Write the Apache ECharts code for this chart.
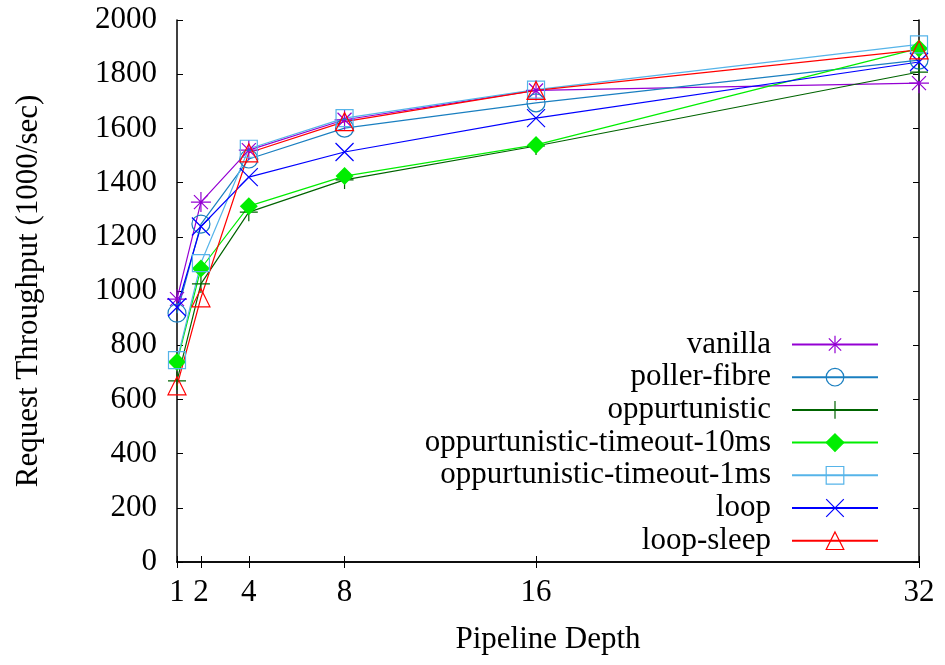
<!DOCTYPE html>
<html>
<head>
<meta charset="utf-8">
<script src="https://cdn.jsdelivr.net/npm/echarts@6/dist/echarts.min.js"></script>
<style>
  html, body { margin: 0; padding: 0; background: #fff; }
  #chart { width: 945px; height: 665px; }
</style>
</head>
<body>
<div id="chart"></div>
<script>
// pipeline depths on the x axis
var depths = [1, 2, 4, 8, 16, 32];
var xTicks = [1, 2, 4, 8, 16, 32];

// request throughput (1000/sec)
var vanilla      = [970, 1328, 1520, 1632, 1740, 1767];
var pollerFibre  = [918, 1247, 1487, 1601, 1694, 1852];
var opp          = [668, 1026, 1291, 1410, 1535, 1808];
var opp10ms      = [738, 1083, 1313, 1424, 1539, 1895];
var opp1ms       = [745, 1103, 1525, 1638, 1743, 1910];
var loop         = [940, 1238, 1420, 1513, 1638, 1845];
var loopSleep    = [650,  975, 1510, 1625, 1740, 1890];

var FONT = '"Liberation Serif", "DejaVu Serif", serif';
var FS = 31;

var asterisk = 'path://M0,-10L0,10M-10,0L10,0M-7,-7L7,7M-7,7L7,-7';
var plus = 'path://M0,-10L0,10M-10,0L10,0';
var cross = 'path://M-10,-10L10,10M-10,10L10,-10';

function pairs(vals) {
  return depths.map(function (d, i) { return [d, vals[i]]; });
}

function mk(name, vals, color, symbol, size, filled) {
  return {
    name: name,
    type: 'line',
    data: pairs(vals),
    symbol: symbol,
    symbolSize: size,
    showAllSymbol: true,
    animation: false,
    lineStyle: { color: color, width: 1.2 },
    itemStyle: filled
      ? { color: color, borderColor: color, borderWidth: 0 }
      : { color: 'none', borderColor: color, borderWidth: 1.2 },
    emphasis: { disabled: true }
  };
}

var series = [
  mk('vanilla', vanilla, '#9400d3', asterisk, 20, false),
  mk('poller-fibre', pollerFibre, '#1a7fc0', 'circle', 18, false),
  mk('oppurtunistic', opp, '#006400', plus, 18, false),
  mk('oppurtunistic-timeout-10ms', opp10ms, '#00ee00', 'diamond', 18, true),
  mk('oppurtunistic-timeout-1ms', opp1ms, '#56b4e9', 'rect', 17, false),
  mk('loop', loop, '#0000ff', cross, 18, false),
  mk('loop-sleep', loopSleep, '#ff0000', 'triangle', 18, false)
];

var tickStyle = { show: true, inside: true, length: 6, lineStyle: { color: '#000', width: 1 } };
var lineSty = { show: true, lineStyle: { color: '#000', width: 1.5 } };
var plain = function (v) { return String(v); };

var myChart = echarts.init(document.getElementById('chart'));
var option = {
  backgroundColor: '#fff',
  animation: false,
  textStyle: { fontFamily: FONT },
  grid: { left: 177, right: 26, top: 20, bottom: 103, containLabel: false },
  legend: {
    orient: 'vertical',
    align: 'right',
    right: 61,
    top: 324,
    itemWidth: 86,
    itemHeight: 22,
    itemGap: 1.7,
    selectedMode: false,
    itemStyle: { borderWidth: 1.2 },
    textStyle: { fontFamily: FONT, fontSize: FS, color: '#000', padding: [0, 16, 0, 0] },
    data: series.map(function (s) { return s.name; })
  },
  xAxis: [{
    type: 'value',
    min: 1,
    max: 32,
    name: 'Pipeline Depth',
    nameLocation: 'middle',
    nameGap: 62,
    nameTextStyle: { fontFamily: FONT, fontSize: FS, color: '#000' },
    axisLine: lineSty,
    axisTick: Object.assign({ customValues: xTicks }, tickStyle),
    axisLabel: { customValues: xTicks, formatter: plain, fontFamily: FONT, fontSize: FS, color: '#000', margin: 15 },
    splitLine: { show: false }
  }, {
    type: 'value',
    position: 'top',
    min: 1,
    max: 32,
    axisLine: lineSty,
    axisTick: Object.assign({ customValues: xTicks }, tickStyle),
    axisLabel: { show: false },
    splitLine: { show: false }
  }],
  yAxis: [{
    type: 'value',
    min: 0,
    max: 2000,
    interval: 200,
    name: 'Request Throughput (1000/sec)',
    nameLocation: 'middle',
    nameGap: 133,
    nameTextStyle: { fontFamily: FONT, fontSize: FS, color: '#000' },
    axisLine: lineSty,
    axisTick: tickStyle,
    axisLabel: { formatter: plain, fontFamily: FONT, fontSize: FS, color: '#000', margin: 20 },
    splitLine: { show: false }
  }, {
    type: 'value',
    position: 'right',
    min: 0,
    max: 2000,
    interval: 200,
    axisLine: lineSty,
    axisTick: tickStyle,
    axisLabel: { show: false },
    splitLine: { show: false }
  }],
  series: series
};
myChart.setOption(option, true);
</script>
</body>
</html>
